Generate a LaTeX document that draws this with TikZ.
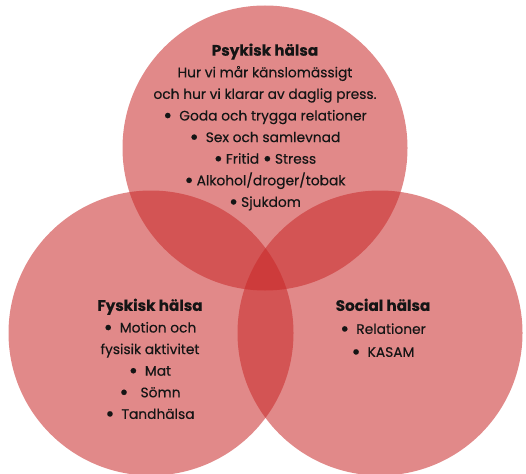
\documentclass[tikz,border=0pt]{standalone}
\usepackage{fontspec}
\setmainfont{Poppins}[FakeBold=0.3]
\usepackage{tikz}
\usetikzlibrary{positioning}
\definecolor{vennred}{RGB}{200,40,40}
\definecolor{venntext}{HTML}{151515}
\newcommand{\bigdot}{\raisebox{-2.4pt}{\scalebox{1.6}{\textbullet}}}
\newcommand{\bul}{\bigdot\hspace{7pt}}
\newcommand{\bull}{\bigdot\hspace{3pt}}

\begin{document}
\begin{tikzpicture}[x=1pt, y=-1pt,
  venn/.style={circle, fill=vennred, fill opacity=0.55, draw=none,
    minimum size=285pt, inner sep=0pt},
  area/.style={align=center, text=venntext, text opacity=1,
    font=\fontsize{13.8pt}{21.6pt}\selectfont},
  every node/.style={inner sep=0pt}]

  \useasboundingbox (0,0) rectangle (526,473);

  % the three circles
  \node[venn] (psyk) at (265,148) {};
  \node[venn] (fys)  at (151,333) {};
  \node[venn] (soc)  at (380,333) {};

  % texts
  \node[area] (psyktxt) at (265,127) {%
    {\bfseries\fontsize{15.2pt}{21.6pt}\selectfont Psykisk hälsa}\\
    Hur vi mår känslomässigt\\
    och hur vi klarar av daglig press.\\
    \bul Goda och trygga relationer\\
    \bul Sex och samlevnad\\
    \bull Fritid \bull Stress\\
    \bull Alkohol/droger/tobak\\
    \bull Sjukdom};

  \node[area] (fystxt) at (150,360) {%
    {\bfseries\fontsize{15.2pt}{21.6pt}\selectfont Fyskisk hälsa}\\
    \bul Motion och\\
    fysisik aktivitet\\
    \bul Mat\\
    \bigdot\hspace{12pt}Sömn\\
    \bul Tandhälsa};

  \node[area, font=\fontsize{13.8pt}{23pt}\selectfont] (soctxt) at (383,329) {%
    {\bfseries\fontsize{15.2pt}{21.6pt}\selectfont Social hälsa}\\
    \bul Relationer\\
    \bul KASAM};

\end{tikzpicture}
\end{document}
